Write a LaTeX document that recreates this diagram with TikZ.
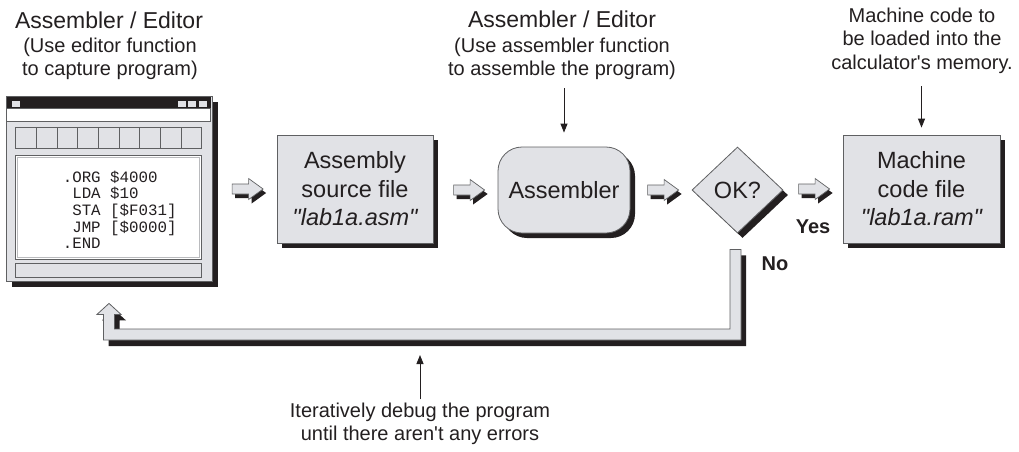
\documentclass[tikz,border=0pt]{standalone}
\usepackage{fontspec}
\newfontfamily\arial{Liberation Sans}
\newfontfamily\cour{Liberation Mono}
\usetikzlibrary{shapes.geometric,shadows,arrows.meta,calc}
\definecolor{boxfill}{HTML}{E1E2E6}
\definecolor{edge}{HTML}{5F6062}
\definecolor{darkc}{HTML}{231F20}
\definecolor{ink}{HTML}{231F20}
\begin{document}
\begin{tikzpicture}[x=1pt,y=-1pt,
  shd/.style={drop shadow={shadow xshift=5pt, shadow yshift=-5pt, fill=darkc, opacity=1}},
  box/.style={draw=edge, fill=boxfill, line width=0.8pt, inner sep=0pt, text=ink, align=center,
    font=\arial\fontsize{23.5}{28.5}\selectfont, shd},
  hdr/.style={font=\arial\fontsize{23}{27}\selectfont, text=ink, inner sep=0pt},
  sub/.style={font=\arial\fontsize{20}{23.5}\selectfont, text=ink, inner sep=0pt, align=center},
  lbl/.style={font=\arial\bfseries\fontsize{20}{24}\selectfont, text=ink, inner sep=0pt},
  code/.style={font=\cour\fontsize{15.8}{16.7}\selectfont, text=ink, inner sep=0pt, align=left},
  tarrow/.style={draw=ink, line width=0.9pt, -{Triangle[length=9pt,width=7pt]}},
  panel/.style={draw=edge, line width=0.6pt},
  pics/blockarr/.style={code={
    \filldraw[draw=edge, fill=boxfill, line width=0.7pt,
      drop shadow={shadow xshift=3pt, shadow yshift=-4pt, fill=darkc, opacity=1}]
      (-15.5,-5) -- (1,-5) -- (1,-10.5) -- (15.5,0) -- (1,10.5) -- (1,5) -- (-15.5,5) -- cycle;
  }}
]
\useasboundingbox (0,0) rectangle (1019,451);

% headers
\node[hdr] (hdrA) at (109,20) {Assembler / Editor};
\node[sub, anchor=north] (hdrA2) at (110,37.5) {(Use editor function\\to capture program)};
\node[hdr] (hdrB) at (562,19.5) {Assembler / Editor};
\node[sub, anchor=north] (hdrB2) at (562,37.5) {(Use assembler function\\to assemble the program)};
\node[sub, anchor=north] (hdrC) at (922,7.4) {Machine code to\\be loaded into the\\calculator's memory.};

% main boxes
\node[box, minimum width=156pt, minimum height=108pt] (asm) at (355,189) {Assembly\\source file\\\itshape "lab1a.asm"};
\node[box, rounded corners=24pt, minimum width=132pt, minimum height=86pt] (asmr) at (564,190) {Assembler};
\node[box, diamond, aspect=1.06, minimum width=91pt, minimum height=86pt] (ok) at (737.5,190) {OK?};
\node[box, minimum width=157pt, minimum height=108pt] (mc) at (921.5,189) {Machine\\code file\\\itshape "lab1a.ram"};

% editor window
\node[draw=edge, fill=boxfill, line width=0.8pt, minimum width=206pt, minimum height=185pt,
  inner sep=0pt, drop shadow={shadow xshift=6pt, shadow yshift=-6pt, fill=darkc, opacity=1}] (win) at (109,188.5) {};
\begin{scope}[shift={(win.north west)}]
  \fill[darkc] (1,1) rectangle (205,13);
  \fill[boxfill] (6,5) rectangle (14,11);
  \fill[boxfill] (172,5) rectangle (180,11);
  \fill[boxfill] (182,5) rectangle (190,11);
  \fill[boxfill] (193,5) rectangle (201,11);
  \filldraw[panel, fill=white] (1,13) rectangle (205,26);
  \foreach \i in {0,...,8} {
    \filldraw[panel, fill=boxfill] ({10+\i*20.667},32) rectangle ({10+(\i+1)*20.667},53);
  }
  \filldraw[panel, fill=white] (10,60) rectangle (196,164);
  \draw[boxfill!70!edge, line width=0.5pt] (12,62) rectangle (194,162);
  \filldraw[panel, fill=boxfill] (10,168) rectangle (196,182);
\end{scope}
\node[code, anchor=north west] (code) at ($(win.north west)+(57,75)$)
  {.ORG~\$4000\\~LDA~\$10\\~STA~[\$F031]\\~JMP~[\$0000]\\.END};

% block arrows between stages
\pic at ($(asm.west)+(-29,0)$) {blockarr};
\pic at ($(asmr.west)+(-28.5,0)$) {blockarr};
\pic at ($(ok.west)+(-28.5,0)$) {blockarr};
\pic at ($(mc.west)+(-28.5,0)$) {blockarr};

% labels
\node[lbl] (yes) at (813,227) {Yes};
\node[lbl] (no) at (775,264) {No};

% thin arrows from captions
\draw[tarrow, shorten <=8pt, shorten >=14pt] (hdrB2.south -| asmr.north) -- (asmr.north);
\draw[tarrow, shorten <=13pt, shorten >=7pt] (hdrC.south -| mc.north) -- (mc.north);

% feedback loop
\coordinate (fbR) at ($(ok.south)+(-2,16)$);
\coordinate (fbL) at ($(win.south)+(0,22)$);
\coordinate (ch) at (0,329);
\filldraw[draw=edge, fill=boxfill, line width=0.8pt,
  drop shadow={shadow xshift=5pt, shadow yshift=-6pt, fill=darkc, opacity=1}]
  ($(fbR)+(-5.5,0)$) -- ($(fbR)+(5.5,0)$) -- ($(fbR |- ch)+(5.5,11)$)
  -- ($(fbL |- ch)+(-5.5,11)$) -- ($(fbL)+(-5.5,11)$) -- ($(fbL)+(-12,11)$) -- (fbL)
  -- ($(fbL)+(12,11)$) -- ($(fbL)+(5.5,11)$) -- ($(fbL |- ch)+(5.5,0)$)
  -- ($(fbR |- ch)+(-5.5,0)$) -- cycle;

% bottom caption
\node[sub, anchor=north] (btm) at (420,402.4) {Iteratively debug the program\\until there aren't any errors};
\coordinate (chb) at (420,346);
\draw[tarrow, shorten <=3pt, shorten >=9pt] (btm.north) -- (chb);
\end{tikzpicture}
\end{document}
